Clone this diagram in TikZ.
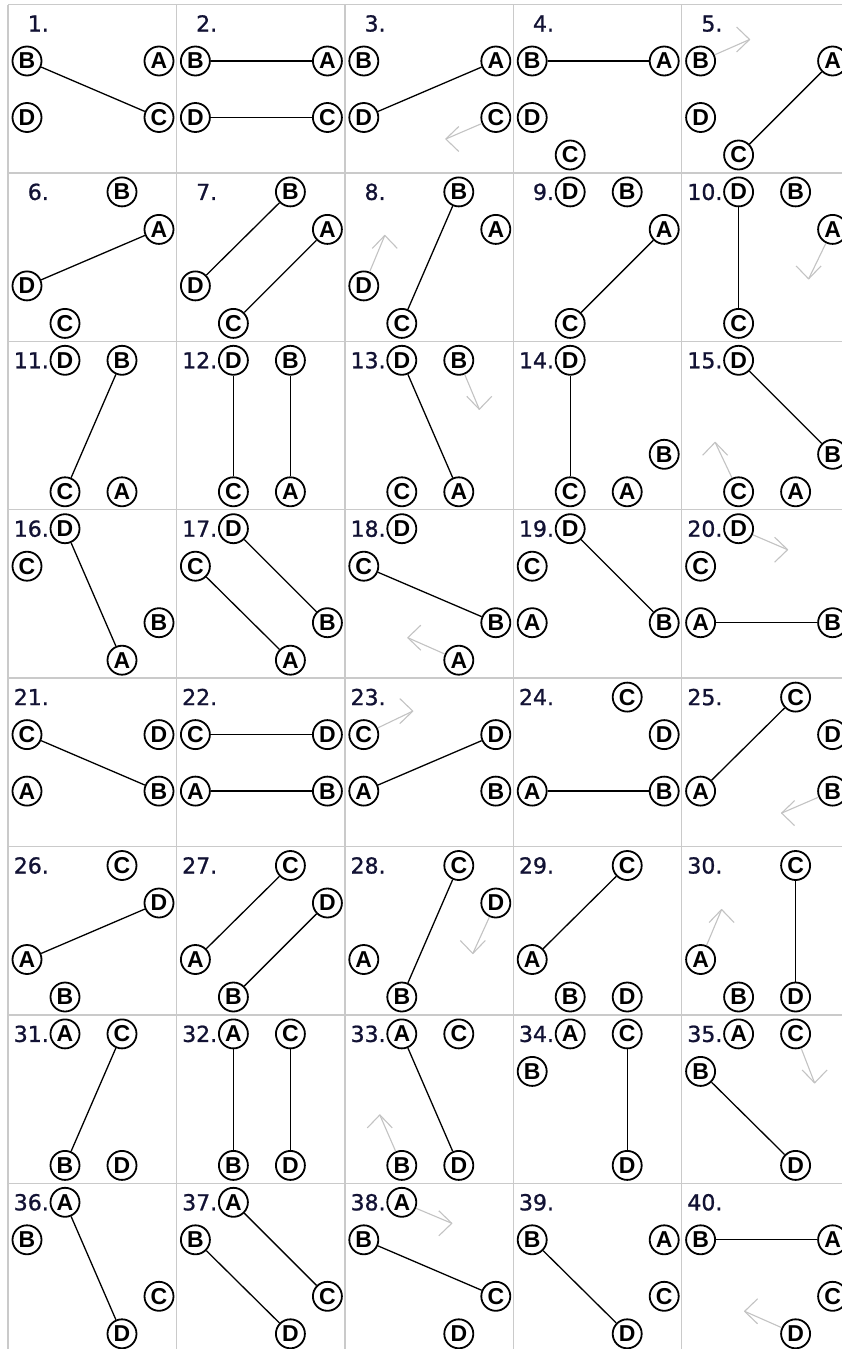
\documentclass[tikz,border=0pt]{standalone}
\usepackage{fontspec}
\setmainfont{Liberation Sans}
\newfontfamily\numfont[FakeBold=1]{DejaVu Sans}
\definecolor{hintgray}{RGB}{195,195,195}
\definecolor{gridgray}{RGB}{202,202,202}
\definecolor{numblue}{RGB}{18,18,52}
\newcommand\setcell[1]{%
  \pgfmathsetmacro\cellX{8+168.4*mod(#1-1,5)}%
  \pgfmathsetmacro\cellY{4.5+168.4*int((#1-1)/5)}}
\newcommand\cellnodes[5]{%
  \setcell{#1}%
  \begin{scope}[shift={(\cellX,\cellY)}]
    \node[numlabel] (num#1) at (41,27) {#1.};
    \node[letter,#2] (n#1A) {A};
    \node[letter,#3] (n#1B) {B};
    \node[letter,#4] (n#1C) {C};
    \node[letter,#5] (n#1D) {D};
  \end{scope}}
\newcommand\hint[5]{%
  \setcell{#1}%
  \begin{scope}[shift={(\cellX,\cellY)}]
    \coordinate (h#1) at #3;
    \draw[hintline] (n#1#2) -- (h#1);
    \draw[hintline] (h#1) ++#4 -- (h#1) -- ++#5;
  \end{scope}}
\begin{document}
\begin{tikzpicture}[x=1pt,y=-1pt,
  letter/.style={circle,draw=black,line width=1.8pt,minimum size=29pt,inner sep=0pt,
    font=\fontsize{23}{23}\selectfont\bfseries},
  link/.style={draw=black,line width=1.3pt},
  hintline/.style={draw=hintgray,line width=1.1pt,line join=round},
  gridline/.style={draw=gridgray,line width=1.4pt},
  numlabel/.style={anchor=base east,inner sep=0pt,text=numblue,
    font=\numfont\fontsize{22}{22}\selectfont},
  sTa/.style={at={(57,19)}},
  sTb/.style={at={(114,19)}},
  sLa/.style={at={(19,56.5)}},
  sLb/.style={at={(19,113)}},
  sRa/.style={at={(151,56.5)}},
  sRb/.style={at={(151,113)}},
  sBa/.style={at={(57,150.5)}},
  sBb/.style={at={(114,150.5)}}]
\useasboundingbox (0,0) rectangle (842,1349);
\fill[white] (0,0) rectangle (842,1349);
\clip (0,0) rectangle (842,1349);
% grid
\foreach \k in {0,...,5} {\draw[gridline] (8+168.4*\k,4.5) -- (8+168.4*\k,1360);}
\foreach \k in {0,...,8} {\draw[gridline] (8,4.5+168.4*\k) -- (860,4.5+168.4*\k);}
% cells: A B C D slots
\cellnodes{1}{sRa}{sLa}{sRb}{sLb}
\cellnodes{2}{sRa}{sLa}{sRb}{sLb}
\cellnodes{3}{sRa}{sLa}{sRb}{sLb}
\cellnodes{4}{sRa}{sLa}{sBa}{sLb}
\cellnodes{5}{sRa}{sLa}{sBa}{sLb}
\cellnodes{6}{sRa}{sTb}{sBa}{sLb}
\cellnodes{7}{sRa}{sTb}{sBa}{sLb}
\cellnodes{8}{sRa}{sTb}{sBa}{sLb}
\cellnodes{9}{sRa}{sTb}{sBa}{sTa}
\cellnodes{10}{sRa}{sTb}{sBa}{sTa}
\cellnodes{11}{sBb}{sTb}{sBa}{sTa}
\cellnodes{12}{sBb}{sTb}{sBa}{sTa}
\cellnodes{13}{sBb}{sTb}{sBa}{sTa}
\cellnodes{14}{sBb}{sRb}{sBa}{sTa}
\cellnodes{15}{sBb}{sRb}{sBa}{sTa}
\cellnodes{16}{sBb}{sRb}{sLa}{sTa}
\cellnodes{17}{sBb}{sRb}{sLa}{sTa}
\cellnodes{18}{sBb}{sRb}{sLa}{sTa}
\cellnodes{19}{sLb}{sRb}{sLa}{sTa}
\cellnodes{20}{sLb}{sRb}{sLa}{sTa}
\cellnodes{21}{sLb}{sRb}{sLa}{sRa}
\cellnodes{22}{sLb}{sRb}{sLa}{sRa}
\cellnodes{23}{sLb}{sRb}{sLa}{sRa}
\cellnodes{24}{sLb}{sRb}{sTb}{sRa}
\cellnodes{25}{sLb}{sRb}{sTb}{sRa}
\cellnodes{26}{sLb}{sBa}{sTb}{sRa}
\cellnodes{27}{sLb}{sBa}{sTb}{sRa}
\cellnodes{28}{sLb}{sBa}{sTb}{sRa}
\cellnodes{29}{sLb}{sBa}{sTb}{sBb}
\cellnodes{30}{sLb}{sBa}{sTb}{sBb}
\cellnodes{31}{sTa}{sBa}{sTb}{sBb}
\cellnodes{32}{sTa}{sBa}{sTb}{sBb}
\cellnodes{33}{sTa}{sBa}{sTb}{sBb}
\cellnodes{34}{sTa}{sLa}{sTb}{sBb}
\cellnodes{35}{sTa}{sLa}{sTb}{sBb}
\cellnodes{36}{sTa}{sLa}{sRb}{sBb}
\cellnodes{37}{sTa}{sLa}{sRb}{sBb}
\cellnodes{38}{sTa}{sLa}{sRb}{sBb}
\cellnodes{39}{sRa}{sLa}{sRb}{sBb}
\cellnodes{40}{sRa}{sLa}{sRb}{sBb}
% links
\draw[link] (n1B) -- (n1C);
\draw[link] (n2B) -- (n2A);
\draw[link] (n2D) -- (n2C);
\draw[link] (n3D) -- (n3A);
\draw[link] (n4B) -- (n4A);
\draw[link] (n5A) -- (n5C);
\draw[link] (n6D) -- (n6A);
\draw[link] (n7D) -- (n7B);
\draw[link] (n7C) -- (n7A);
\draw[link] (n8C) -- (n8B);
\draw[link] (n9C) -- (n9A);
\draw[link] (n10D) -- (n10C);
\draw[link] (n11C) -- (n11B);
\draw[link] (n12D) -- (n12C);
\draw[link] (n12B) -- (n12A);
\draw[link] (n13D) -- (n13A);
\draw[link] (n14D) -- (n14C);
\draw[link] (n15D) -- (n15B);
\draw[link] (n16D) -- (n16A);
\draw[link] (n17D) -- (n17B);
\draw[link] (n17C) -- (n17A);
\draw[link] (n18C) -- (n18B);
\draw[link] (n19D) -- (n19B);
\draw[link] (n20A) -- (n20B);
\draw[link] (n21C) -- (n21B);
\draw[link] (n22C) -- (n22D);
\draw[link] (n22A) -- (n22B);
\draw[link] (n23A) -- (n23D);
\draw[link] (n24A) -- (n24B);
\draw[link] (n25A) -- (n25C);
\draw[link] (n26A) -- (n26D);
\draw[link] (n27A) -- (n27C);
\draw[link] (n27B) -- (n27D);
\draw[link] (n28B) -- (n28C);
\draw[link] (n29A) -- (n29C);
\draw[link] (n30C) -- (n30D);
\draw[link] (n31B) -- (n31C);
\draw[link] (n32A) -- (n32B);
\draw[link] (n32C) -- (n32D);
\draw[link] (n33A) -- (n33D);
\draw[link] (n34C) -- (n34D);
\draw[link] (n35B) -- (n35D);
\draw[link] (n36A) -- (n36D);
\draw[link] (n37A) -- (n37C);
\draw[link] (n37B) -- (n37D);
\draw[link] (n38B) -- (n38C);
\draw[link] (n39B) -- (n39D);
\draw[link] (n40B) -- (n40A);
% hint arrows
\hint{3}{C}{(101,134.5)}{(13,-12.5)}{(13,12.5)}
\hint{5}{B}{(68,35)}{(-13,-12.5)}{(-13,12.5)}
\hint{8}{D}{(40,62.5)}{(-12.5,13)}{(12.5,13)}
\hint{10}{A}{(127,106)}{(-12.5,-13)}{(12.5,-13)}
\hint{13}{B}{(134.5,68)}{(-12.5,-13)}{(12.5,-13)}
\hint{15}{C}{(33.5,101)}{(-12.5,13)}{(12.5,13)}
\hint{18}{A}{(63,128)}{(13,-12.5)}{(13,12.5)}
\hint{20}{D}{(106,40)}{(-13,-12.5)}{(-13,12.5)}
\hint{23}{C}{(68,33)}{(-13,-12.5)}{(-13,12.5)}
\hint{25}{B}{(100,135)}{(13,-12.5)}{(13,12.5)}
\hint{28}{D}{(128,107)}{(-12.5,-13)}{(12.5,-13)}
\hint{30}{A}{(40,63)}{(-12.5,13)}{(12.5,13)}
\hint{33}{B}{(35,100)}{(-12.5,13)}{(12.5,13)}
\hint{35}{C}{(133,68)}{(-12.5,-13)}{(12.5,-13)}
\hint{38}{A}{(107,40)}{(-13,-12.5)}{(-13,12.5)}
\hint{40}{D}{(63,128)}{(13,-12.5)}{(13,12.5)}
\end{tikzpicture}
\end{document}
